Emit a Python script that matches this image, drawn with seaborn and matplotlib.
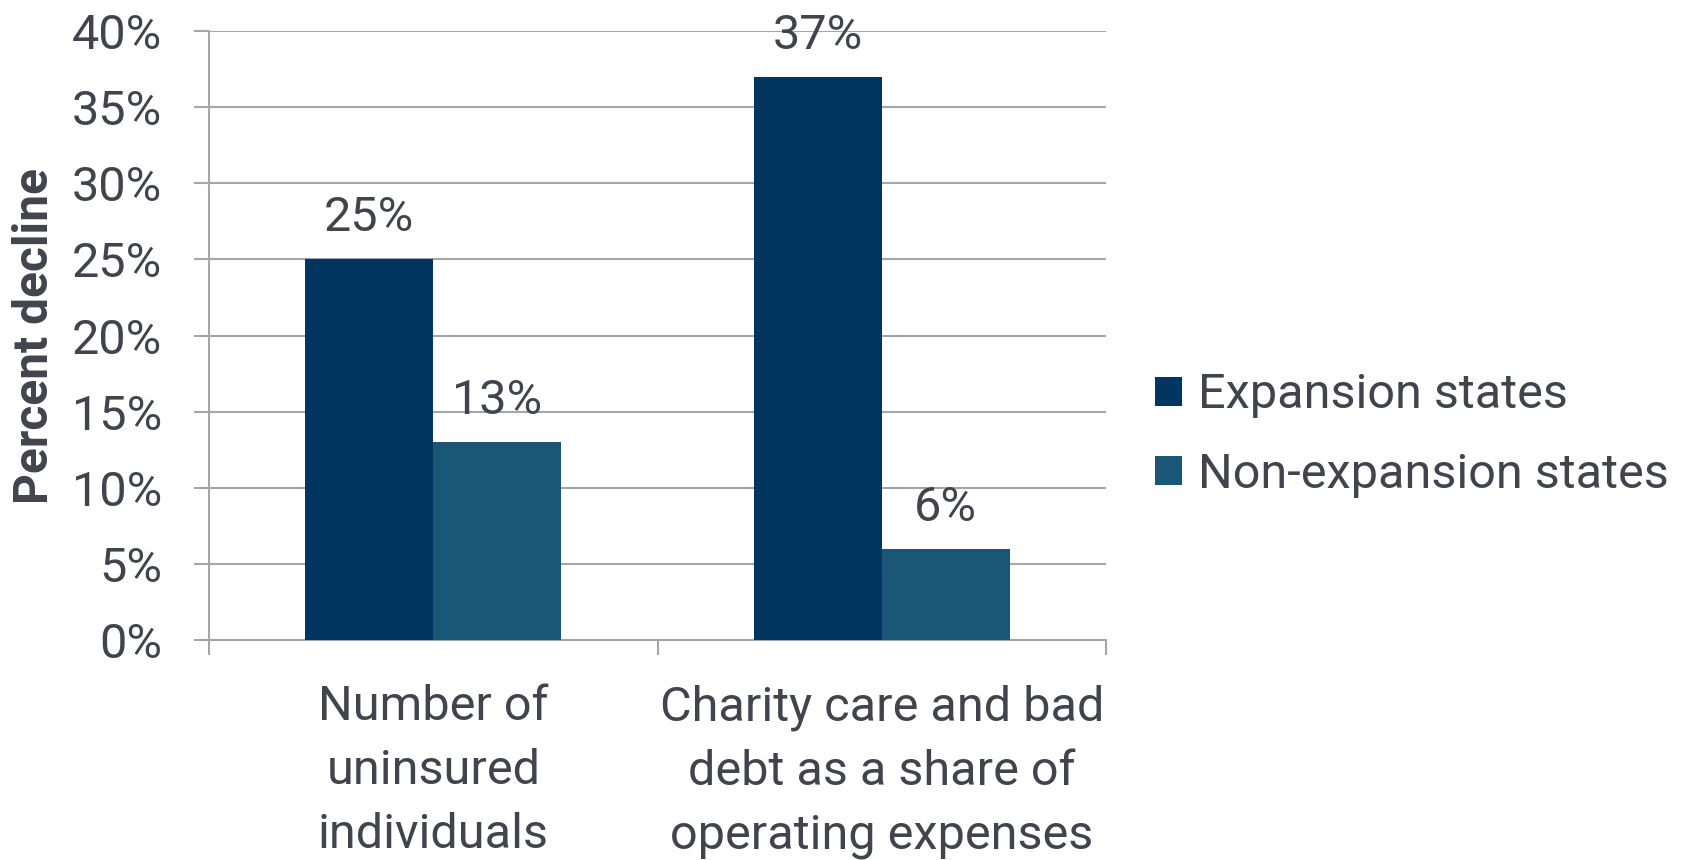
import matplotlib
matplotlib.use("Agg")
import matplotlib.pyplot as plt
import seaborn as sns
import pandas as pd
from matplotlib.patches import Patch

categories = ["Number of\nuninsured\nindividuals",
              "Charity care and bad\ndebt as a share of\noperating expenses"]
series = ["Expansion states", "Non-expansion states"]
expansion = [25, 37]
non_expansion = [13, 6]
yticks = [0, 5, 10, 15, 20, 25, 30, 35, 40]
colors = ["#003560", "#1A5676"]
text_color = "#41444C"
grid_color = "#A6A6A6"

df = pd.DataFrame({
    "category": categories * 2,
    "series": [series[0]] * 2 + [series[1]] * 2,
    "value": expansion + non_expansion,
})

sns.set_theme(style="white")
plt.rcParams["font.family"] = ["Roboto", "DejaVu Sans"]

fig = plt.figure(figsize=(16.84, 8.6), dpi=100)
ax = fig.add_axes([209/1684, 1 - 640/860, (1106-209)/1684, (640-31)/860])

sns.barplot(data=df, x="category", y="value", hue="series", order=categories,
            hue_order=series, palette=colors, width=0.57, saturation=1,
            edgecolor="none", linewidth=0, legend=False, ax=ax, zorder=3)

ax.set_xlim(-0.5, 1.5)
ax.set_ylim(0, 40)
ax.set_yticks(yticks)
ax.set_yticklabels([f"{v}%" for v in yticks])
ax.yaxis.grid(True, color=grid_color, linewidth=1.5, zorder=0)
ax.set_axisbelow(True)

for s in ["top", "right"]:
    ax.spines[s].set_visible(False)
for s in ["left", "bottom"]:
    ax.spines[s].set_color(grid_color)
    ax.spines[s].set_linewidth(1.5)

ax.tick_params(axis="y", which="major", length=10.8, width=1.5, color=grid_color,
               labelsize=35, labelcolor=text_color, pad=23, left=True)
ax.set_xticks([0, 1])
ax.set_xticklabels(categories, linespacing=1.5)
ax.set_xticks([-0.5, 0.5, 1.5], minor=True)
ax.tick_params(axis="x", which="major", length=0, labelsize=35,
               labelcolor=text_color, pad=32)
ax.tick_params(axis="x", which="minor", length=10.8, width=1.5, color=grid_color,
               bottom=True)
ax.set_xlabel("")
ax.set_ylabel("Percent decline", fontsize=34.5, fontweight="bold", color=text_color,
              labelpad=10)

for cont in ax.containers:
    ax.bar_label(cont, labels=[f"{v:.0f}%" for v in cont.datavalues],
                 padding=13, fontsize=35, color=text_color)

handles = [Patch(facecolor=c, edgecolor="none") for c in colors]
fig.legend(handles, series, loc="center left", bbox_to_anchor=(1136/1684, 1 - 435/860),
           frameon=False, fontsize=35, labelcolor=text_color, handlelength=0.54,
           handleheight=0.54, handletextpad=0.33, labelspacing=0.69, borderaxespad=0)

fig.savefig("out.png", dpi=100)
